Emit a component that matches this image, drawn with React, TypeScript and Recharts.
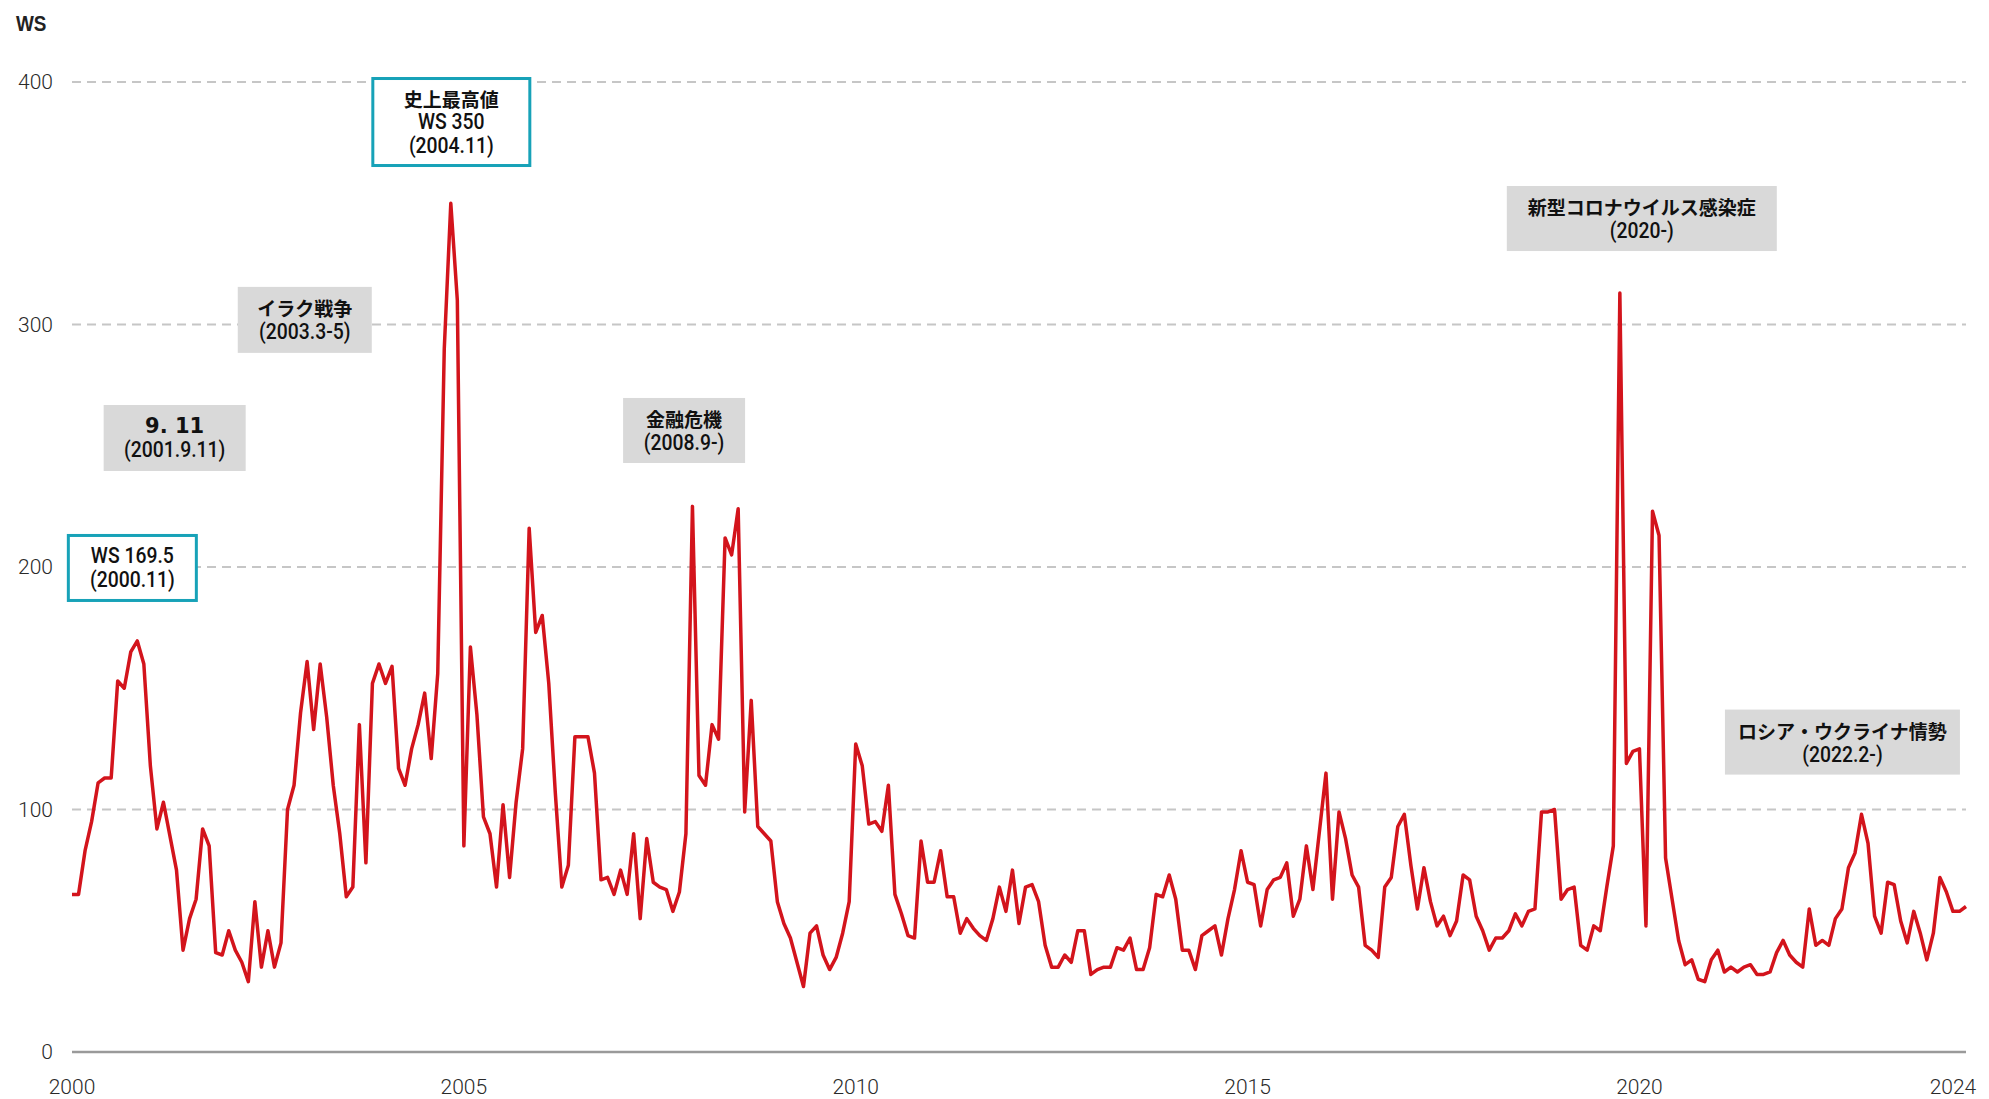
import { LineChart, Line, XAxis, YAxis, CartesianGrid, ReferenceDot } from 'recharts';

// Monthly WS (Worldscale) rates, Jan 2000 - Mar 2024
const ws2000to2004 = [
  65, 65, 83, 95, 111, 113, 113, 153, 150, 165, 169.5, 160,
  118, 92, 103, 89, 75, 42, 55, 63, 92, 85, 41, 40,
  50, 42, 37, 29, 62, 35, 50, 35, 45, 100, 110, 140,
  161, 133, 160, 138, 110, 90, 64, 68, 135, 78, 152, 160,
  152, 159, 117, 110, 125, 135, 148, 121, 156, 290, 350, 310,
];
const ws2005to2009 = [
  85, 167, 139, 97, 90, 68, 102, 72, 103, 125, 216, 173,
  180, 152, 107, 68, 77, 130, 130, 130, 115, 71, 72, 65,
  75, 65, 90, 55, 88, 70, 68, 67, 58, 66, 90, 225,
  114, 110, 135, 129, 212, 205, 224, 99, 145, 93, 90, 87,
  62, 53, 47, 37, 27, 49, 52, 40, 34, 39, 49, 62,
];
const ws2010to2014 = [
  127, 118, 94, 95, 91, 110, 65, 57, 48, 47, 87, 70,
  70, 83, 64, 64, 49, 55, 51, 48, 46, 55, 68, 58,
  75, 53, 68, 69, 62, 44, 35, 35, 40, 37, 50, 50,
  32, 34, 35, 35, 43, 42, 47, 34, 34, 43, 65, 64,
  73, 63, 42, 42, 34, 48, 50, 52, 40, 55, 67, 83,
];
const ws2015to2019 = [
  70, 69, 52, 67, 71, 72, 78, 56, 63, 85, 67, 91,
  115, 63, 99, 88, 73, 68, 44, 42, 39, 68, 72, 93,
  98, 77, 59, 76, 62, 52, 56, 48, 54, 73, 71, 56,
  50, 42, 47, 47, 50, 57, 52, 58, 59, 99, 99, 100,
  63, 67, 68, 44, 42, 52, 50, 68, 85, 313, 119, 124,
];
const ws2020to2024 = [
  125, 52, 223, 213, 80, 63, 46, 36, 38, 30, 29, 38,
  42, 33, 35, 33, 35, 36, 32, 32, 33, 41, 46, 40,
  37, 35, 59, 44, 46, 44, 55, 59, 76, 82, 98, 86,
  56, 49, 70, 69, 54, 45, 58, 49, 38, 49, 72, 66,
  58, 58, 60,
];

const START_YEAR = 2000;
const yearTicks = [2000, 2005, 2010, 2015, 2020, 2024];
const wsTicks = [0, 100, 200, 300, 400];

const wsMonthly = [...ws2000to2004, ...ws2005to2009, ...ws2010to2014, ...ws2015to2019, ...ws2020to2024];
const chartData = wsMonthly.map((ws, i) => ({ t: START_YEAR + i / 12, ws }));
const lastT = START_YEAR + (wsMonthly.length - 1) / 12;

type Note = {
  id: string;
  x: number;
  y: number;
  lines: string[];
  kind: 'peak' | 'event';
  w: number;
  h: number;
};

const notes: Note[] = [
  { id: 'p2000', x: 2000.77, y: 199.6, lines: ['WS 169.5', '(2000.11)'], kind: 'peak', w: 131, h: 68 },
  { id: 'e911', x: 2001.31, y: 253.2, lines: ['9. 11', '(2001.9.11)'], kind: 'event', w: 142, h: 66 },
  { id: 'iraq', x: 2002.97, y: 301.9, lines: ['イラク戦争', '(2003.3-5)'], kind: 'event', w: 134, h: 66 },
  { id: 'p2004', x: 2004.84, y: 383.5, lines: ['史上最高値', 'WS 350', '(2004.11)'], kind: 'peak', w: 160, h: 90 },
  { id: 'gfc', x: 2007.81, y: 256.3, lines: ['金融危機', '(2008.9-)'], kind: 'event', w: 122, h: 65 },
  { id: 'covid', x: 2020.03, y: 343.7, lines: ['新型コロナウイルス感染症', '(2020-)'], kind: 'event', w: 270, h: 65 },
  { id: 'ukr', x: 2022.59, y: 127.8, lines: ['ロシア・ウクライナ情勢', '(2022.2-)'], kind: 'event', w: 235, h: 65 },
];

const hasKana = (s: string) => /[\u3000-\u9fff\uff00-\uffef]/.test(s);

const NoteBox = ({ cx, cy, note }: { cx?: number; cy?: number; note: Note }) => {
  if (cx == null || cy == null) return null;
  const isPeak = note.kind === 'peak';
  const n = note.lines.length;
  return (
    <g>
      <rect
        x={cx - note.w / 2 + (isPeak ? 1.5 : 0)}
        y={cy - note.h / 2 + (isPeak ? 1.5 : 0)}
        width={note.w - (isPeak ? 3 : 0)}
        height={note.h - (isPeak ? 3 : 0)}
        fill={isPeak ? '#ffffff' : '#d9d9d9'}
        stroke={isPeak ? '#17a2b8' : 'none'}
        strokeWidth={3}
      />
      {note.lines.map((line, i) => {
        const cjk = hasKana(line);
        const big = line.startsWith('9.');
        const ly = cy + (i - (n - 1) / 2) * 24;
        if (cjk) {
          return (
            <text
              key={line}
              x={cx}
              y={ly}
              textAnchor="middle"
              dominantBaseline="central"
              fill="#111"
              fontFamily="'Noto Sans CJK JP', sans-serif"
              fontWeight={700}
              fontSize={19}
            >
              {line}
            </text>
          );
        }
        // narrow Latin text, squeezed horizontally like the original condensed face
        return (
          <text
            key={line}
            transform={`translate(${cx} ${ly}) scale(${big ? 1 : 0.88} 1)`}
            x={0}
            y={0}
            textAnchor="middle"
            dominantBaseline="central"
            fill="#111"
            fontFamily={big ? "'DejaVu Sans', sans-serif" : 'Roboto, sans-serif'}
            fontWeight={big ? 700 : 500}
            fontSize={big ? 21 : 22}
          >
            {line}
          </text>
        );
      })}
    </g>
  );
};

const tickStyle = { fontSize: 21, fill: '#2a2a2a', fontFamily: 'Roboto, sans-serif', fontWeight: 300 };

export default function App() {
  return (
    <div style={{ position: 'absolute', left: 0, top: 0, width: 1989, height: 1099, background: '#fff' }}>
      <svg style={{ position: 'absolute', left: 0, top: 0 }} width={70} height={40}>
        <text
          transform="translate(16 31) scale(0.86 1)"
          fontFamily="'Liberation Sans', Arial, sans-serif"
          fontWeight={700}
          fontSize={22}
          fill="#222"
        >
          WS
        </text>
      </svg>
      <LineChart width={1989} height={1099} data={chartData} margin={{ top: 82, right: 23, bottom: 0, left: 10 }}>
        <CartesianGrid vertical={false} stroke="#c6c6c6" strokeWidth={2} strokeDasharray="9 6" />
        <XAxis
          dataKey="t"
          type="number"
          domain={[START_YEAR, lastT]}
          ticks={yearTicks}
          interval={0}
          height={47}
          axisLine={{ stroke: '#9a9a9a', strokeWidth: 2.5 }}
          tickLine={false}
          tickSize={0}
          tickMargin={27}
          tick={tickStyle}
        />
        <YAxis
          type="number"
          domain={[0, 400]}
          ticks={wsTicks}
          width={62}
          axisLine={false}
          tickLine={false}
          tickSize={0}
          tickMargin={19}
          tick={tickStyle}
        />
        <Line
          type="linear"
          dataKey="ws"
          stroke="#d3141c"
          strokeWidth={3.5}
          strokeLinejoin="round"
          dot={false}
          activeDot={false}
          isAnimationActive={false}
        />
        {notes.map((note) => (
          <ReferenceDot
            key={note.id}
            x={note.x}
            y={note.y}
            r={1}
            ifOverflow="visible"
            shape={(p: { cx?: number; cy?: number }) => <NoteBox cx={p.cx} cy={p.cy} note={note} />}
          />
        ))}
      </LineChart>
    </div>
  );
}
